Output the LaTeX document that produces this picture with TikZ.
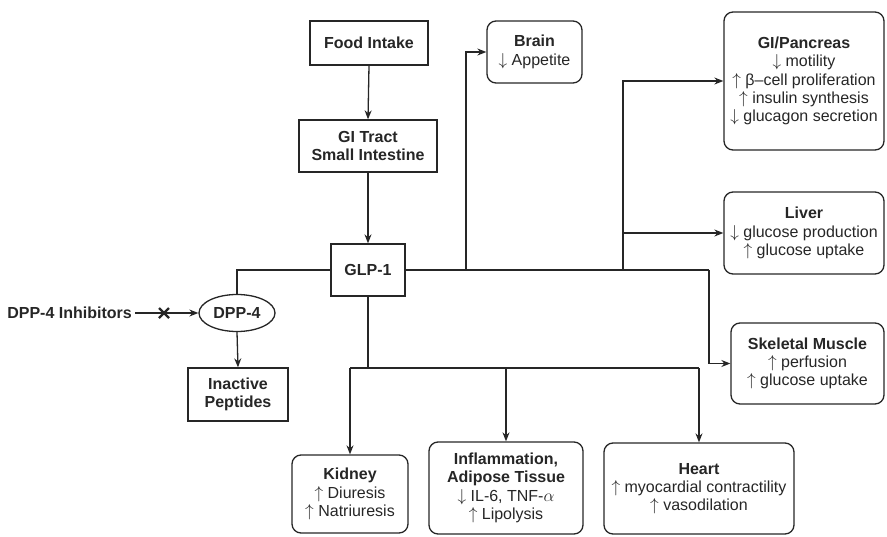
\documentclass[tikz,border=0pt]{standalone}
\usepackage{fontspec}
\setmainfont{Liberation Sans}
\usetikzlibrary{arrows.meta,shapes.geometric}

\definecolor{ink}{gray}{0.15}
\newcommand{\up}{$\uparrow$\space}
\newcommand{\dn}{$\downarrow$\space}

\begin{document}
\begin{tikzpicture}[x=1pt,y=-1pt,
  txt/.style={font=\fontsize{16}{18.3}\selectfont, align=center, inner sep=0pt, text=ink},
  sqbox/.style={txt, draw=ink, line width=1.3pt, rectangle},
  rndbox/.style={txt, draw=ink, line width=1.3pt, rounded corners=9pt},
  oval/.style={txt, draw=ink, line width=1.3pt, ellipse},
  link/.style={draw=ink, line width=1.3pt},
  arr/.style={link, -{Stealth[length=9pt,width=7pt]}}]

\path[use as bounding box] (0,0) rectangle (887,536);

% central pathway
\node[sqbox, minimum width=118pt, minimum height=44pt] (food) at (369,43) {\textbf{Food Intake}};
\node[sqbox, minimum width=138pt, minimum height=52pt] (gi) at (368,146) {\textbf{GI Tract}\\\textbf{Small Intestine}};
\node[sqbox, minimum width=74pt, minimum height=52pt] (glp) at (368,270) {\textbf{GLP-1}};

% degradation branch
\node[oval, minimum width=76pt, minimum height=37pt] (dpp) at (237,313) {\textbf{DPP-4}};
\node[txt, anchor=east, inner sep=3pt] (inh) at (135,313) {\textbf{DPP-4 Inhibitors}};
\node[sqbox, minimum width=100pt, minimum height=53pt] (pep) at (238,394.5) {\textbf{Inactive}\\\textbf{Peptides}};

% target organs
\node[rndbox, minimum width=95pt, minimum height=62pt] (brain) at (534.5,52) {\textbf{Brain}\\\dn Appetite};
\node[rndbox, minimum width=160pt, minimum height=138pt] (panc) at (804,81)
  {\textbf{GI/Pancreas}\\\dn motility\\\up β–cell proliferation\\\up insulin synthesis\\\dn glucagon secretion};
\node[rndbox, minimum width=160pt, minimum height=82pt] (liver) at (804,233)
  {\textbf{Liver}\\\dn glucose production\\\up glucose uptake};
\node[rndbox, minimum width=153pt, minimum height=81pt] (muscle) at (807.5,363.5)
  {\textbf{Skeletal Muscle}\\\up perfusion\\\up glucose uptake};
\node[rndbox, minimum width=116pt, minimum height=78pt] (kidney) at (350,494)
  {\textbf{Kidney}\\\up Diuresis\\\up Natriuresis};
\node[rndbox, minimum width=154pt, minimum height=92pt] (inflam) at (506,488)
  {\textbf{Inflammation,}\\\textbf{Adipose Tissue}\\\dn IL-6, TNF-$\alpha$\\\up Lipolysis};
\node[rndbox, minimum width=190pt, minimum height=91pt] (heart) at (699,488.5)
  {\textbf{Heart}\\\up myocardial contractility\\\up vasodilation};

% junction points
\coordinate (jl) at (237,270);
\coordinate (jb) at (466,270);
\coordinate (jp) at (623,270);
\coordinate (jm) at (709,270);
\coordinate (jd) at (368,368);
\coordinate (jk) at (350,368);
\coordinate (jh) at (699,368);
\coordinate (xm) at (164,313);

% connectors
\draw[arr] (food.south) -- (gi.north);
\draw[arr] (gi.south) -- (glp.north);
\draw[link] (glp.west) -- (jl) -- (dpp.north);
\draw[arr] (inh.east) -- (dpp.west);
\draw[ink, line width=2.4pt] (xm) ++(-5,-5) -- ++(10,10) (xm) ++(-5,5) -- ++(10,-10);
\draw[arr] (dpp.south) -- (pep.north);

\draw[link] (glp.east) -- (jm);
\draw[arr] (jb) |- (brain.west);
\draw[arr] (jp) |- (panc.west);
\draw[arr] (jp |- liver.west) -- (liver.west);
\draw[arr] (jm) |- (muscle.west);

\draw[link] (glp.south) -- (jd);
\draw[link] (jk) -- (jh);
\draw[arr] (jk) -- (kidney.north);
\draw[arr] (jk -| inflam.north) -- (inflam.north);
\draw[arr] (jh) -- (heart.north);
\end{tikzpicture}
\end{document}
